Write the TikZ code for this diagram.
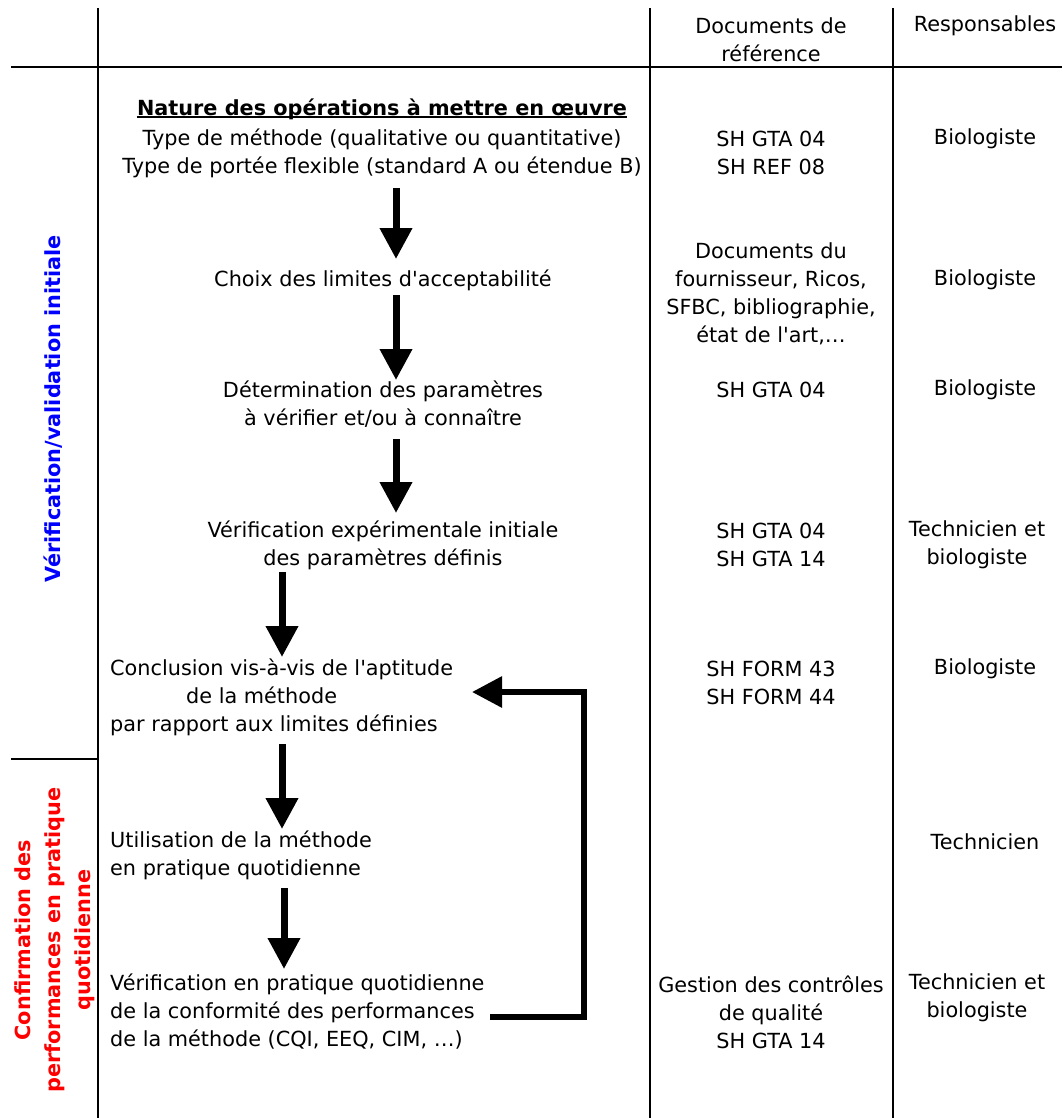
\documentclass[tikz,border=0pt]{standalone}
\usepackage{fontspec}
\setmainfont{DejaVu Sans}
\usetikzlibrary{arrows.meta,positioning}

\begin{document}
\begin{tikzpicture}[
  x=1pt, y=-1pt,
  font=\fontsize{20.8}{28}\selectfont,
  txt/.style={inner sep=0pt, align=center},
  lefttxt/.style={inner sep=0pt, align=left, anchor=west},
  flow/.style={line width=7pt, -{Triangle[length=31pt,width=31pt]}},
  backflow/.style={line width=6pt, line join=miter, -{Triangle[length=30pt,width=30pt]}},
  grid/.style={line width=1.2pt},
  phase/.style={font=\fontsize{20.8}{30}\selectfont\bfseries, rotate=90, align=center, inner sep=0pt}
]
\useasboundingbox (0,0) rectangle (1062,1118);

% Table rules
\draw[grid] (98,8) -- (98,1118);
\draw[grid] (650,8) -- (650,1118);
\draw[grid] (893,8) -- (893,1118);
\draw[grid] (11,67) -- (1062,67);
\draw[grid] (11,759) -- (98,759);

% Header
\node[txt] (docsH) at (771,40) {Documents de\\référence};
\node[txt] (respH) at (985,26) {Responsables};

% Phases
\node[phase, text=blue] (phaseA) at (53,409) {Vérification/validation initiale};
\node[phase, text=red] (phaseB) at (55,940) {Confirmation des\\performances en pratique\\quotidienne};

% Nature des operations
\node[txt, font=\fontsize{20.8}{28}\selectfont\bfseries] (nature) at (382,109) {Nature des opérations à mettre en œuvre};
\draw[line width=1.6pt] ([yshift=2.5pt]nature.south west) -- ([yshift=2.5pt]nature.south east);
\node[txt] (methode) at (382,153) {Type de méthode (qualitative ou quantitative)\\Type de portée flexible (standard A ou étendue B)};
\node[txt] (docs1) at (771,153) {SH GTA 04\\SH REF 08};
\node[txt] (resp1) at (985,139) {Biologiste};

% Limites
\node[txt] (choix) at (383,280) {Choix des limites d\textquotesingle acceptabilité};
\node[txt] (docs2) at (771,294) {Documents du\\fournisseur, Ricos,\\SFBC, bibliographie,\\état de l\textquotesingle art,…};
\node[txt] (resp2) at (985,280) {Biologiste};

% Parametres
\node[txt] (determ) at (383,404) {Détermination des paramètres\\à vérifier et/ou à connaître};
\node[txt] (docs3) at (771,390) {SH GTA 04};
\node[txt] (resp3) at (985,390) {Biologiste};

% Verification initiale
\node[txt] (verif) at (383,545) {Vérification expérimentale initiale\\des paramètres définis};
\node[txt] (docs4) at (771,545) {SH GTA 04\\SH GTA 14};
\node[txt] (resp4) at (977,545) {Technicien et\\biologiste};

% Conclusion
\node[lefttxt] (concl) at (110,697) {Conclusion vis-à-vis de l\textquotesingle aptitude\\\hspace*{76pt}de la méthode\\par rapport aux limites définies};
\node[txt] (docs5) at (771,683) {SH FORM 43\\SH FORM 44};
\node[txt] (resp5) at (985,669) {Biologiste};

% Pratique quotidienne
\node[lefttxt] (utilis) at (110,855) {Utilisation de la méthode\\en pratique quotidienne};
\node[txt] (resp6) at (985,842) {Technicien};

\node[lefttxt] (verifq) at (110,1012) {Vérification en pratique quotidienne\\de la conformité des performances\\de la méthode (CQI, EEQ, CIM, …)};
\node[txt] (docs7) at (771,1012) {Gestion des contrôles\\de qualité\\SH GTA 14};
\node[txt] (resp7) at (977,998) {Technicien et\\biologiste};

% Arrows
\coordinate (back) at (584,692);
\coordinate (backin) at (472,692);
\draw[flow] (396,188) -- (396,259);
\draw[flow] (396,295) -- (396,380);
\draw[flow] (396,439) -- (396,513);
\draw[flow] (282,572) -- (282,657);
\draw[flow] (282,744) -- (282,829);
\draw[flow] (284,888) -- (284,969);
\draw[backflow] (490,1017) -| (back) -- (backin);

\end{tikzpicture}
\end{document}
